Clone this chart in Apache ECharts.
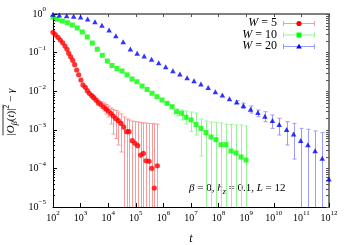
<!DOCTYPE html>
<html><head><meta charset="utf-8">
<script src="https://cdn.jsdelivr.net/npm/echarts@6/dist/echarts.min.js"></script>
<style>html,body{margin:0;padding:0;background:#fff;}#chart{width:350px;height:245px;}</style>
</head><body><div id="chart"></div>
<script>
// ---- data ----
const redT = [100,121,152,184,224,272,321,371,438,518,611,723,853,1030,1220,1480,1750,2070,2520,2990,3610,4380,5480,6870,8320,10100,12600,15300,18700,23200,29100,36500,46800,56800,74600,93500,117000,151000,187000,234000,301000,377000,468000,601000];
const redV = [0.336,0.291,0.249,0.212,0.180,0.148,0.122,0.096,0.078,0.063,0.0486,0.0354,0.0267,0.0195,0.0145,0.0126,0.0103,0.00883,0.00764,0.00679,0.00592,0.00504,0.00452,0.00390,0.00346,0.00307,0.00264,0.00228,0.00196,0.00172,0.00146,0.00118,0.000893,0.000893,0.000522,0.000447,0.000387,0.000222,0.000246,0.000158,0.000153,0.000101,0.000031,0.000117];
const redHi = [null,null,null,null,null,null,null,null,null,null,null,null,null,null,null,null,null,null,0.00822,0.00751,0.00667,0.00592,0.00541,0.00494,0.00452,0.00414,0.00367,0.00336,0.00316,0.00289,0.00257,0.00215,0.00191,0.00180,0.00169,0.00164,0.00159,0.00155,0.00150,0.00150,0.00146,0.00146,0.00141,0.00141];
const redLo = [null,null,null,null,null,null,null,null,null,null,null,null,null,null,null,null,null,null,0.00708,0.00610,0.00525,0.00426,0.00367,0.00307,0.00257,0.00215,0.00141,0.000778,0.000596,0.000404,0.000266,1e-9,1e-9,1e-9,1e-9,1e-9,1e-9,1e-9,1e-9,1e-9,1e-9,1e-9,1e-9,1e-9];

const greenT = [100,143,217,330,500,759,1150,1750,2650,4030,6110,9270,13700,20800,31600,48000,72800,110000,168000,255000,386000,586000,889000,1.35e6,2.05e6,2.99e6,4.53e6,6.59e6,1.00e7,1.52e7,2.30e7,3.49e7,5.31e7,8.05e7,1.22e8,1.85e8,2.81e8,4.27e8,6.49e8,9.84e8];
const greenV = [0.822,0.729,0.659,0.596,0.519,0.434,0.342,0.254,0.177,0.122,0.0851,0.0605,0.0463,0.0387,0.0334,0.0266,0.0207,0.0176,0.0136,0.0111,0.00883,0.00721,0.00592,0.00485,0.00397,0.00294,0.00268,0.00211,0.00180,0.00137,0.00109,0.000851,0.000650,0.000554,0.000411,0.000411,0.000282,0.000251,0.000197,0.000165];
const greenHi = [null,null,null,null,null,null,null,null,null,null,null,null,null,null,null,null,null,null,null,null,null,null,null,0.00515,0.00426,0.00346,0.00326,0.00307,0.00289,0.00272,0.00191,0.00169,0.00159,0.00155,0.00150,0.00141,0.00137,0.00133,0.00133,0.00125];
const greenLo = [null,null,null,null,null,null,null,null,null,null,null,null,null,null,null,null,null,null,null,null,null,null,null,0.00458,0.00367,0.00228,0.00180,0.00141,0.000893,0.000733,0.000209,1e-9,1e-9,1e-9,1e-9,1e-9,1e-9,1e-9,1e-9,1e-9];

const blueT = [100,169,312,560,1000,1800,3310,5930,10800,19000,34900,63700,112000,201000,373000,676000,1.21e6,2.21e6,3.96e6,7.23e6,1.29e7,2.29e7,4.20e7,7.66e7,1.37e8,2.48e8,4.49e8,7.93e8,1.44e9,2.65e9,4.76e9,8.89e9,1.57e10,2.91e10,5.21e10,9.44e10,1.72e11,3.13e11,5.68e11,9.91e11];
const blueV = [0.982,0.942,0.904,0.871,0.836,0.741,0.632,0.509,0.385,0.274,0.191,0.124,0.0959,0.0816,0.0670,0.0547,0.0431,0.0340,0.0279,0.0224,0.0186,0.0154,0.0125,0.00970,0.00798,0.00640,0.00525,0.00426,0.00340,0.00281,0.00225,0.00174,0.00137,0.00102,0.000778,0.000528,0.000411,0.000286,0.000183,0.0000531];
const blueHi = [null,null,null,null,null,null,null,null,null,null,null,null,null,null,null,null,null,null,null,null,null,null,null,null,null,null,0.00574,0.00494,0.00414,0.00326,0.00294,0.00242,0.00199,0.00162,0.00147,0.00109,0.00103,0.000931,0.000841,0.000811];
const blueLo = [null,null,null,null,null,null,null,null,null,null,null,null,null,null,null,null,null,null,null,null,null,null,null,null,null,null,0.00480,0.00356,0.00272,0.00218,0.00162,0.00109,0.000733,0.000404,0.000175,1e-9,1e-9,1e-9,1e-9,1e-9];

const legendLabels = ['5', '10', '20'];
const yMinorMultipliers = [2,3,4,5,6,7,8,9];
const xMin = 1e2, xMax = 1e12, yMin = 1e-5, yMax = 1;

// ---- styling ----
const FONT = '"Liberation Serif", "DejaVu Serif", serif';
const COLORS = ['#ff0000', '#00ff00', '#0000ff'];
const ERRC = ['#ff9a9a', '#96f596', '#9a9aff'];

const chart = echarts.init(document.getElementById('chart'), null, {renderer: 'canvas'});

function errData(T, LO, HI) {
  const out = [];
  for (let i = 0; i < T.length; i++) if (HI[i] != null) out.push([T[i], LO[i], HI[i]]);
  return out;
}
function errRender(color) {
  return function (params, api) {
    const t = api.value(0);
    const a = api.coord([t, api.value(1)]);
    const b = api.coord([t, api.value(2)]);
    const x = Math.round(a[0]) + 0.5, w = 2;
    const st = {stroke: color, lineWidth: 1};
    return {type: 'group', children: [
      {type: 'line', shape: {x1: x, y1: a[1], x2: x, y2: b[1]}, style: st},
      {type: 'line', shape: {x1: x - w, y1: a[1], x2: x + w, y2: a[1]}, style: st},
      {type: 'line', shape: {x1: x - w, y1: b[1], x2: x + w, y2: b[1]}, style: st}
    ]};
  };
}
function zip(T, V) { return T.map((t, i) => [t, V[i]]); }

const minorData = [];
for (let e = -5; e < 0; e++) yMinorMultipliers.forEach(m => minorData.push([xMin, m * Math.pow(10, e)]));

function supLabel(v) {
  const e = Math.round(Math.log10(v));
  return '{a|10}{b|' + (e < 0 ? '\u2212' + (-e) : e) + '}';
}
const labelRich = {
  a: {fontFamily: FONT, fontSize: 10, lineHeight: 16, color: '#000', verticalAlign: 'middle'},
  b: {fontFamily: FONT, fontSize: 7, lineHeight: 8, color: '#000', verticalAlign: 'top'}
};

// measure text to place overline
const mctx = document.createElement('canvas').getContext('2d');
function tw(s, size, italic) { mctx.font = (italic ? 'italic ' : '') + size + 'px ' + FONT; return mctx.measureText(s).width; }
const overParts = [['|',11,false],['O',11,true],['\u03b2',8,true],['(',11,false],['t',11,true],[')|',11,false],['2',8,false]];
const restParts = [[' \u2212 ',11,false],['\u03b3',11,true]];
const overW = overParts.reduce((s, p) => s + tw(p[0], p[1], p[2]), 0);
const totalW = overW + restParts.reduce((s, p) => s + tw(p[0], p[1], p[2]), 0);

const mathRich = {
  n: {fontFamily: FONT, fontSize: 11, lineHeight: 16, color: '#000', verticalAlign: 'middle'},
  i: {fontFamily: FONT, fontSize: 11, lineHeight: 16, fontStyle: 'italic', color: '#000', verticalAlign: 'middle'},
  sub: {fontFamily: FONT, fontSize: 8, lineHeight: 9, fontStyle: 'italic', color: '#000', verticalAlign: 'bottom'},
  sup: {fontFamily: FONT, fontSize: 8, lineHeight: 9, color: '#000', verticalAlign: 'top'}
};
const legRich = {
  n: {fontFamily: FONT, fontSize: 12, color: '#000'},
  i: {fontFamily: FONT, fontSize: 12, fontStyle: 'italic', color: '#000'}
};

const legendRows = [23, 34.5, 46];
const legendGraphics = [];
legendLabels.forEach((lab, k) => {
  const y = legendRows[k];
  legendGraphics.push({type: 'text', x: 277, y: y, style: {text: '{i|W}{n| = ' + lab + '}', rich: legRich, align: 'right', verticalAlign: 'middle'}});
  const ls = {stroke: ERRC[k], lineWidth: 1};
  legendGraphics.push({type: 'line', shape: {x1: 283, y1: y + 0.5, x2: 315, y2: y + 0.5}, style: ls});
  legendGraphics.push({type: 'line', shape: {x1: 283.5, y1: y - 2, x2: 283.5, y2: y + 3}, style: ls});
  legendGraphics.push({type: 'line', shape: {x1: 314.5, y1: y - 2, x2: 314.5, y2: y + 3}, style: ls});
  let mk;
  if (k === 0) mk = {type: 'circle', shape: {cx: 299, cy: y + 0.5, r: 2.6}, style: {fill: COLORS[0]}};
  else if (k === 1) mk = {type: 'rect', shape: {x: 296.5, y: y - 2, width: 5, height: 5}, style: {fill: COLORS[1]}};
  else mk = {type: 'polygon', shape: {points: [[299, y - 2.2], [301.8, y + 2.5], [296.2, y + 2.5]]}, style: {fill: COLORS[2]}};
  legendGraphics.push(mk);
});

const axisCommon = {type: 'log', logBase: 10, splitLine: {show: false}};

const option = {
  backgroundColor: '#fff',
  animation: false,
  grid: {left: 53, right: 21, top: 14, bottom: 38, outerBoundsMode: 'none', containLabel: false},
  xAxis: [
    Object.assign({}, axisCommon, {min: xMin, max: xMax, splitNumber: 10, position: 'bottom',
      name: 't', nameLocation: 'middle', nameGap: 26,
      nameTextStyle: {fontFamily: FONT, fontSize: 12, fontStyle: 'italic', color: '#000'},
      axisLine: {lineStyle: {color: '#000', width: 1}},
      axisTick: {inside: true, length: 4, lineStyle: {color: '#000'}},
      axisLabel: {formatter: supLabel, rich: labelRich, margin: 3}}),
    Object.assign({}, axisCommon, {min: xMin, max: xMax, splitNumber: 10, position: 'top',
      axisLine: {lineStyle: {color: '#808080', width: 2}},
      axisTick: {inside: true, length: 3, lineStyle: {color: '#555'}},
      axisLabel: {show: false}})
  ],
  yAxis: [
    Object.assign({}, axisCommon, {min: yMin, max: yMax, splitNumber: 5, position: 'left',
      axisLine: {lineStyle: {color: '#000', width: 1}},
      axisTick: {inside: true, length: 4, lineStyle: {color: '#000'}},
      axisLabel: {formatter: supLabel, rich: labelRich, margin: 7}}),
    Object.assign({}, axisCommon, {min: yMin, max: yMax, splitNumber: 5, position: 'right',
      axisLine: {lineStyle: {color: '#808080', width: 2}},
      axisTick: {inside: true, length: 3, lineStyle: {color: '#555'}},
      axisLabel: {show: false}})
  ],
  series: [
    {type: 'custom', name: 'minor', xAxisIndex: 0, yAxisIndex: 0, silent: true, z: 1,
      data: minorData, encode: {x: 0, y: 1},
      renderItem: function (params, api) {
        const v = api.value(1);
        const l = api.coord([xMin, v]), r = api.coord([xMax, v]);
        const y = Math.round(l[1]) + 0.5;
        return {type: 'group', children: [
          {type: 'line', shape: {x1: l[0], y1: y, x2: l[0] + 2, y2: y}, style: {stroke: '#000', lineWidth: 1}},
          {type: 'line', shape: {x1: r[0] - 3, y1: y, x2: r[0], y2: y}, style: {stroke: '#555', lineWidth: 1}}
        ]};
      }},
    {type: 'custom', name: 'errR', clip: true, z: 2, data: errData(redT, redLo, redHi), encode: {x: 0, y: [1, 2]}, renderItem: errRender(ERRC[0])},
    {type: 'custom', name: 'errG', clip: true, z: 2, data: errData(greenT, greenLo, greenHi), encode: {x: 0, y: [1, 2]}, renderItem: errRender(ERRC[1])},
    {type: 'custom', name: 'errB', clip: true, z: 2, data: errData(blueT, blueLo, blueHi), encode: {x: 0, y: [1, 2]}, renderItem: errRender(ERRC[2])},
    {type: 'scatter', name: 'W = 5', z: 3, symbol: 'circle', symbolSize: 5.2, itemStyle: {color: COLORS[0]}, data: zip(redT, redV)},
    {type: 'scatter', name: 'W = 10', z: 3, symbol: 'rect', symbolSize: 5, itemStyle: {color: COLORS[1]}, data: zip(greenT, greenV)},
    {type: 'scatter', name: 'W = 20', z: 3, symbol: 'triangle', symbolSize: [5.5, 5], itemStyle: {color: COLORS[2]}, data: zip(blueT, blueV)}
  ],
  graphic: [
    {type: 'group', x: 11, y: 112, rotation: Math.PI / 2, children: [
      {type: 'text', x: -totalW / 2, y: 0, style: {
        text: '{n||}{i|O}{sub|\u03b2}{n|(}{i|t}{n|)|}{sup|2}{n| \u2212 }{i|\u03b3}',
        rich: mathRich, align: 'left', verticalAlign: 'middle'}},
      {type: 'line', shape: {x1: -totalW / 2, y1: -8, x2: -totalW / 2 + overW, y2: -8}, style: {stroke: '#000', lineWidth: 0.8}}
    ]},
    {type: 'text', x: 189, y: 188, style: {
      text: '{i|\u03b2}{n| = 0, }{i|h}{sub|z}{n| = 0.1, }{i|L}{n| = 12}',
      rich: mathRich, align: 'left', verticalAlign: 'middle'}}
  ].concat(legendGraphics)
};
chart.setOption(option);
</script>
</body></html>
